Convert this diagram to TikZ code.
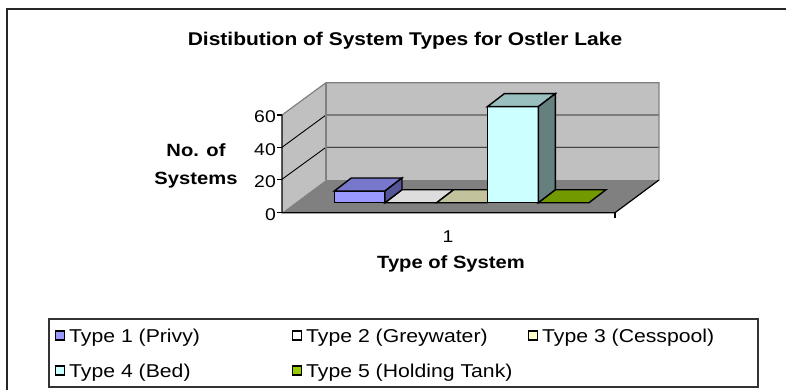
\documentclass[tikz,border=0pt]{standalone}
\usepackage{fontspec}
\setmainfont{Liberation Sans}[FakeStretch=1.14]
\definecolor{wallc}{HTML}{C0C0C0}
\definecolor{floorc}{HTML}{808080}
\definecolor{edgec}{HTML}{808080}
\definecolor{sA}{HTML}{9999FF}\definecolor{sAt}{HTML}{7777CC}\definecolor{sAs}{HTML}{555599}
\definecolor{sB}{HTML}{FFFFFF}\definecolor{sBt}{HTML}{DDDDDD}
\definecolor{sC}{HTML}{FFFFCC}\definecolor{sCt}{HTML}{C2C29C}
\definecolor{sD}{HTML}{CCFFFF}\definecolor{sDt}{HTML}{99BFBF}\definecolor{sDs}{HTML}{668080}
\definecolor{sE}{HTML}{99CC00}\definecolor{sEt}{HTML}{739900}
\newcommand\mybar[6]{% xl, xr, ytop, front, top, side
  \filldraw[barline,fill=#4] (#1,202.7) rectangle (#2,#3);
  \filldraw[barline,fill=#5] (#1,#3) -- (#2,#3) -- ++(17,-13) -- ($(#1,#3)+(17,-13)$) -- cycle;
  \filldraw[barline,fill=#6] (#2,202.7) -- (#2,#3) -- ++(17,-13) -- ($(#2,202.7)+(17,-13)$) -- cycle;
}
\newcommand\myflat[3]{% xl, xr, colour
  \filldraw[barline,fill=#3] (#1,202.7) -- (#2,202.7) -- ++(17,-13) -- ($(#1,202.7)+(17,-13)$) -- cycle;
}
\usetikzlibrary{calc}
\tikzset{
  barline/.style={draw=black,line width=1.4pt,line join=miter},
  wallline/.style={draw=edgec,line width=1.2pt},
  gridline/.style={draw=black,line width=0.9pt},
  axisline/.style={draw=black,line width=1.2pt},
  legmark/.style={draw=black,line width=1.5pt,minimum size=9pt,inner sep=0pt},
  legtext/.style={anchor=base west,inner sep=0pt,font=\fontsize{18.6}{20}\selectfont},
  ticklab/.style={anchor=base east,inner sep=0pt,font=\fontsize{17}{19}\selectfont},
  axtitle/.style={inner sep=0pt,font=\fontsize{17.7}{20}\selectfont\bfseries}
}
\begin{document}
\begin{tikzpicture}[x=1pt,y=-1pt]
\useasboundingbox (0,0) rectangle (786,390);
\fill[white] (0,0) rectangle (786,390);
% outer frame
\draw[line width=1.6pt,draw=black!85] (7,390) -- (7,9) -- (786,9);
% title
\node[inner sep=0pt,anchor=base,font=\fontsize{18.4}{20}\selectfont\bfseries] (title) at (405,46) {Distibution of System Types for Ostler Lake};
% walls
\fill[wallc] (326,82.7) rectangle (659,180);
\fill[wallc] (282,115) -- (326,82.7) -- (326,180) -- (282,212.7) -- cycle;
\fill[floorc] (282,212.7) -- (615,212.7) -- (659,180) -- (326,180) -- cycle;
% gridlines
\draw[gridline] (282,147.3) -- (326,115) -- (659,115);
\draw[gridline] (282,179.3) -- (326,147.3) -- (659,147.3);
% wall edges
\draw[wallline] (282,115) -- (326,82.7) -- (659,82.7) -- (659,180);
\draw[wallline] (326,82.7) -- (326,180);
% axes
\draw[axisline] (282,115) -- (282,212.7) -- (615,212.7) -- (659,180);
\foreach \yy in {115,147.3,179.3,212.7} \draw[axisline] (277,\yy) -- (282,\yy);
\draw[axisline] (615,212.7) -- (615,217.5);
% tick labels
\node[ticklab] (t60) at (276,123) {60};
\node[ticklab] (t40) at (276,155.3) {40};
\node[ticklab] (t20) at (276,187.5) {20};
\node[ticklab] (t0) at (276,220.5) {0};
\node[inner sep=0pt,anchor=base,font=\fontsize{17}{19}\selectfont] (cat1) at (448,242) {1};
% axis titles
\node[axtitle,anchor=base] (yt1) at (196,157) {No. of};
\node[axtitle,anchor=base] (yt2) at (196,185) {Systems};
\node[axtitle,anchor=base] (xt) at (451,268) {Type of System};
% bars
\myflat{385}{436.7}{sBt}
\mybar{334.3}{385}{191}{sA}{sAt}{sAs}
\myflat{436.7}{487.3}{sCt}
\myflat{538.3}{589}{sEt}
\mybar{487.3}{538.3}{106.7}{sD}{sDt}{sDs}
% legend
\draw[line width=1.1pt,draw=black!80] (49,319) rectangle (758,387);
\node[legmark,fill=sA] (m1) at (60,335.5) {};
\node[legtext] (l1) at (69,342) {Type 1 (Privy)};
\node[legmark,fill=sB] (m2) at (297,335.5) {};
\node[legtext] (l2) at (306,342) {Type 2 (Greywater)};
\node[legmark,fill=sC] (m3) at (533,335.5) {};
\node[legtext] (l3) at (542,342) {Type 3 (Cesspool)};
\node[legmark,fill=sD] (m4) at (60,370.5) {};
\node[legtext] (l4) at (69,377) {Type 4 (Bed)};
\node[legmark,fill=sE] (m5) at (297,370.5) {};
\node[legtext] (l5) at (306,377) {Type 5 (Holding Tank)};
\end{tikzpicture}
\end{document}
